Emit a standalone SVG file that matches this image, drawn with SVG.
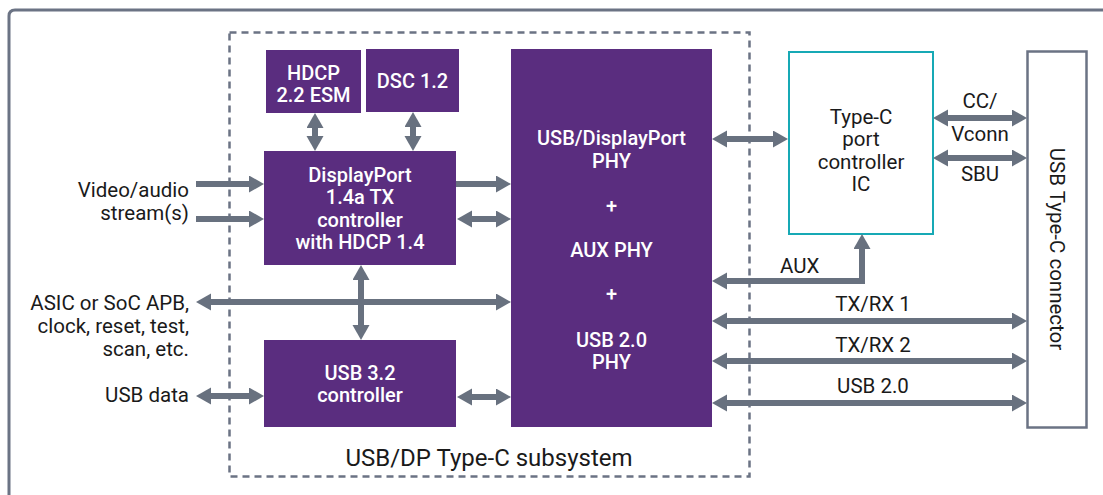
<svg xmlns="http://www.w3.org/2000/svg" width="1103" height="495" viewBox="0 0 1103 495">
<style>
.blk{fill:#5a2d7f}
.wt{fill:#fff;font-family:Roboto,"Liberation Sans",sans-serif;font-weight:500;font-size:20px;text-anchor:middle}
.lb{fill:#1a1a1a;font-family:Roboto,"Liberation Sans",sans-serif;font-size:20.5px}
.c{text-anchor:middle}
.r{text-anchor:end}
.ar{stroke:#68717f;stroke-width:6;fill:none;marker-start:url(#ah);marker-end:url(#ah)}
.one{marker-start:none}
</style>
<defs>
<marker id="ah" markerUnits="userSpaceOnUse" markerWidth="16" markerHeight="18" refX="2" refY="8.5" orient="auto-start-reverse">
<path d="M0,0 L15,8.5 L0,17 Z" fill="#68717f"/>
</marker>
</defs>
<rect width="1103" height="495" fill="#fff"/>
<path d="M9,495 L9,16 Q9,10 15,10 L1103,10" fill="none" stroke="#6b7384" stroke-width="3"/>
<g id="subsystem">
<rect x="229.5" y="32.5" width="520" height="444" fill="none" stroke="#6b7384" stroke-width="2.5" stroke-dasharray="7,5"/>
<text class="lb c" x="489" y="466" style="font-size:24px">USB/DP Type-C subsystem</text>
</g>
<g id="hdcp">
<rect class="blk" x="266" y="50" width="95" height="63"/>
<text class="wt" x="313.5" y="80">HDCP</text>
<text class="wt" x="313.5" y="102">2.2 ESM</text>
</g>
<g id="dsc">
<rect class="blk" x="366" y="49" width="93" height="63"/>
<text class="wt" x="412.5" y="88">DSC 1.2</text>
</g>
<g id="dp">
<rect class="blk" x="264" y="151" width="192" height="114"/>
<text class="wt" x="360" y="182">DisplayPort</text>
<text class="wt" x="360" y="204">1.4a TX</text>
<text class="wt" x="360" y="227">controller</text>
<text class="wt" x="360" y="249">with HDCP 1.4</text>
</g>
<g id="usb32">
<rect class="blk" x="264" y="340" width="192" height="87"/>
<text class="wt" x="360" y="380">USB 3.2</text>
<text class="wt" x="360" y="402">controller</text>
</g>
<g id="phy">
<rect class="blk" x="511" y="49" width="201" height="378"/>
<text class="wt" x="611.5" y="145">USB/DisplayPort</text>
<text class="wt" x="611.5" y="168">PHY</text>
<text class="wt" x="611.5" y="213">+</text>
<text class="wt" x="611.5" y="257">AUX PHY</text>
<text class="wt" x="611.5" y="301">+</text>
<text class="wt" x="611.5" y="347">USB 2.0</text>
<text class="wt" x="611.5" y="369">PHY</text>
</g>
<g id="typec">
<rect x="789" y="52" width="144" height="182" fill="#fff" stroke="#17a9b5" stroke-width="2"/>
<text class="lb c" x="861" y="124">Type-C</text>
<text class="lb c" x="861" y="146">port</text>
<text class="lb c" x="861" y="169">controller</text>
<text class="lb c" x="861" y="191">IC</text>
</g>
<g id="connector">
<rect x="1027.5" y="51.5" width="59" height="376" fill="#fff" stroke="#6b7384" stroke-width="2.5"/>
<text class="lb c" transform="translate(1050,249) rotate(90)">USB Type-C connector</text>
</g>
<g id="labels">
<text class="lb r" x="189" y="197">Video/audio</text>
<text class="lb r" x="189" y="220">stream(s)</text>
<text class="lb r" x="189" y="310">ASIC or SoC APB,</text>
<text class="lb r" x="189" y="333">clock, reset, test,</text>
<text class="lb r" x="189" y="356">scan, etc.</text>
<text class="lb r" x="189" y="402">USB data</text>
<text class="lb c" x="980" y="108">CC/</text>
<text class="lb c" x="980" y="141">Vconn</text>
<text class="lb c" x="980" y="181">SBU</text>
<text class="lb" x="780" y="273">AUX</text>
<text class="lb c" x="873" y="311">TX/RX 1</text>
<text class="lb c" x="873" y="352">TX/RX 2</text>
<text class="lb c" x="873" y="393">USB 2.0</text>
</g>
<g id="connectors">
<line class="ar one" x1="196" y1="184" x2="251" y2="184"/>
<line class="ar one" x1="196" y1="219" x2="251" y2="219"/>
<line class="ar" x1="315" y1="126" x2="315" y2="138"/>
<line class="ar" x1="413" y1="125" x2="413" y2="138"/>
<line class="ar one" x1="456" y1="184" x2="498" y2="184"/>
<line class="ar" x1="470" y1="219" x2="498" y2="219"/>
<line class="ar" x1="725" y1="139" x2="775" y2="139"/>
<line class="ar" x1="209" y1="302" x2="498" y2="302"/>
<line class="ar" x1="361" y1="278" x2="361" y2="327"/>
<line class="ar" x1="209" y1="396" x2="251" y2="396"/>
<line class="ar" x1="470" y1="397" x2="498" y2="397"/>
<line class="ar" x1="946" y1="118" x2="1014" y2="118"/>
<line class="ar" x1="946" y1="158" x2="1014" y2="158"/>
<polyline class="ar" points="725,281 862,281 862,247"/>
<line class="ar" x1="725" y1="321" x2="1014" y2="321"/>
<line class="ar" x1="725" y1="361" x2="1014" y2="361"/>
<line class="ar" x1="725" y1="403" x2="1014" y2="403"/>
</g>
</svg>
